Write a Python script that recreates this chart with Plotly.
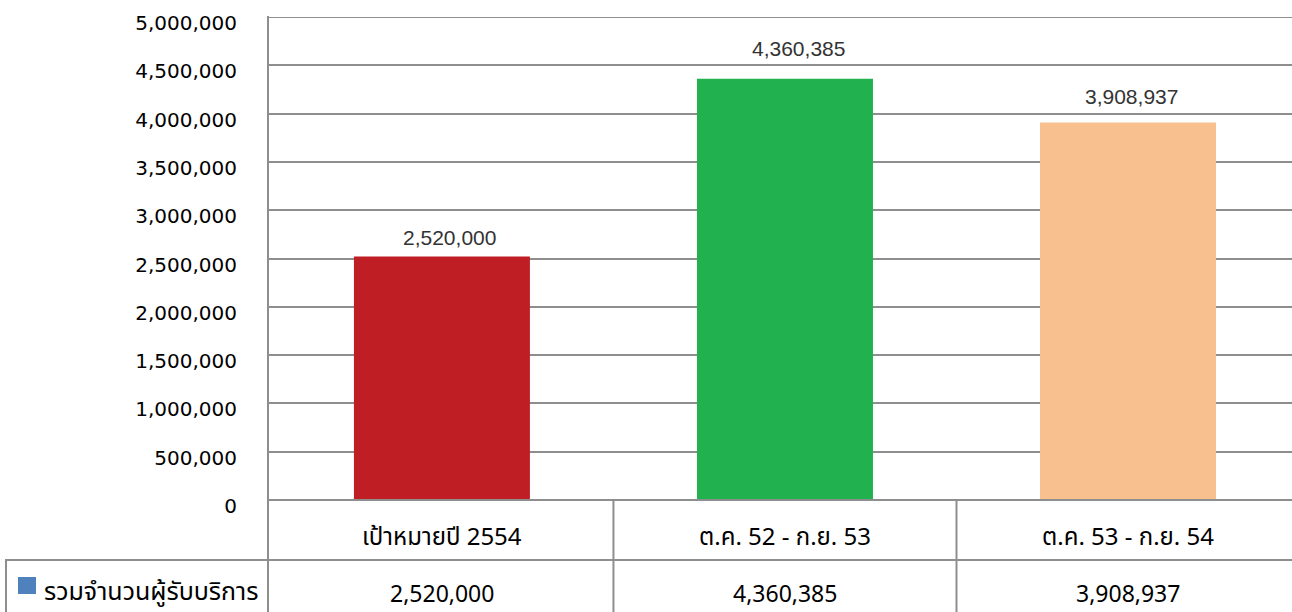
import plotly.graph_objects as go

categories = ["เป้าหมายปี 2554", "ต.ค. 52 - ก.ย. 53", "ต.ค. 53 - ก.ย. 54"]
values = [2520000, 4360385, 3908937]
bar_colors = ["#BE1E24", "#22B14F", "#F8C08F"]
series_name = "รวมจำนวนผู้รับบริการ"
tick_vals = list(range(0, 5000001, 500000))
tick_text = [f"{v:,}" for v in tick_vals]

# per-label pixel nudges (style, as placed in the original)
label_dx = [8, 14, 3]
label_dy = [19, 30, 26]

W, H = 1292, 612
L, T = 268, 17
BOTTOM_PX = 500
B = H - BOTTOM_PX
PH = H - T - B
PW = W - L

def px_x(px):
    return (px - L) / PW

def px_y(py):
    return (BOTTOM_PX - py) / PH

GRID = "#8E8E8E"
THAI = "Tahoma, 'Noto Sans Thai', 'Noto Sans Thai UI', Loma, Garuda, 'DejaVu Sans', sans-serif"

fig = go.Figure()
fig.add_trace(go.Bar(
    x=categories, y=values,
    marker=dict(color=bar_colors, line=dict(width=0)),
    width=0.513,
    showlegend=False,
    hoverinfo="x+y",
))

shapes = []
BOT = px_y(612 + 10)
shapes.append(dict(type="line", xref="paper", yref="y", x0=0, x1=1.01, y0=tick_vals[-1], y1=tick_vals[-1],
                   line=dict(color=GRID, width=2), layer="below"))
shapes.append(dict(type="line", xref="paper", yref="paper", x0=0, x1=0, y0=1.002, y1=BOT,
                   line=dict(color=GRID, width=2)))
shapes.append(dict(type="line", xref="paper", yref="paper", x0=0, x1=1.01, y0=0, y1=0,
                   line=dict(color=GRID, width=2)))
shapes.append(dict(type="line", xref="paper", yref="paper", x0=px_x(5), x1=1.01, y0=px_y(560), y1=px_y(560),
                   line=dict(color=GRID, width=2)))
for xb in [0.5, 1.5]:
    shapes.append(dict(type="line", xref="x", yref="paper", x0=xb, x1=xb, y0=0, y1=BOT,
                       line=dict(color=GRID, width=2)))
shapes.append(dict(type="line", xref="paper", yref="paper", x0=px_x(6), x1=px_x(6), y0=px_y(560), y1=BOT,
                   line=dict(color=GRID, width=2)))
shapes.append(dict(type="rect", xref="paper", yref="paper", x0=px_x(18), x1=px_x(36), y0=px_y(594), y1=px_y(577),
                   fillcolor="#4F81BD", line=dict(width=0)))

annotations = []
for i, c in enumerate(categories):
    annotations.append(dict(x=i, y=values[i], xref="x", yref="y", text=f"{values[i]:,}", showarrow=False,
                            font=dict(family="Liberation Sans, Arial, sans-serif", size=21, color="#333333"),
                            xanchor="center", yanchor="middle", xshift=label_dx[i], yshift=label_dy[i]))
    annotations.append(dict(x=i, y=px_y(538), xref="x", yref="paper", text=c, showarrow=False,
                            font=dict(family=THAI, size=24, color="#000000"), xanchor="center", yanchor="middle"))
    annotations.append(dict(x=i, y=px_y(595), xref="x", yref="paper", text=f"{values[i]:,}", showarrow=False,
                            font=dict(family=THAI, size=23, color="#000000"), xanchor="center", yanchor="middle"))
annotations.append(dict(x=px_x(42), y=px_y(592), xref="paper", yref="paper", text=series_name, showarrow=False,
                        font=dict(family=THAI, size=25, color="#000000"), xanchor="left", yanchor="middle"))

fig.update_layout(
    width=W, height=H,
    margin=dict(l=L, r=0, t=T, b=B, pad=0),
    paper_bgcolor="white", plot_bgcolor="white",
    shapes=shapes, annotations=annotations,
    xaxis=dict(range=[-0.507, 2.478], showticklabels=False, showgrid=False, zeroline=False,
               showline=False, ticks=""),
    yaxis=dict(range=[0, 5000000], tickvals=tick_vals, ticktext=tick_text,
               showgrid=True, gridcolor=GRID, gridwidth=2, zeroline=False, showline=False,
               ticks="", ticklabelstandoff=30, ticklabelshift=6,
               tickfont=dict(family="Verdana, 'DejaVu Sans', sans-serif", size=20, color="#000000")),
    bargap=0.487,
)

fig.write_html(
    "out.html",
    config={"displayModeBar": False},
    post_script="document.body.style.margin='0';document.body.style.overflow='hidden';",
)
